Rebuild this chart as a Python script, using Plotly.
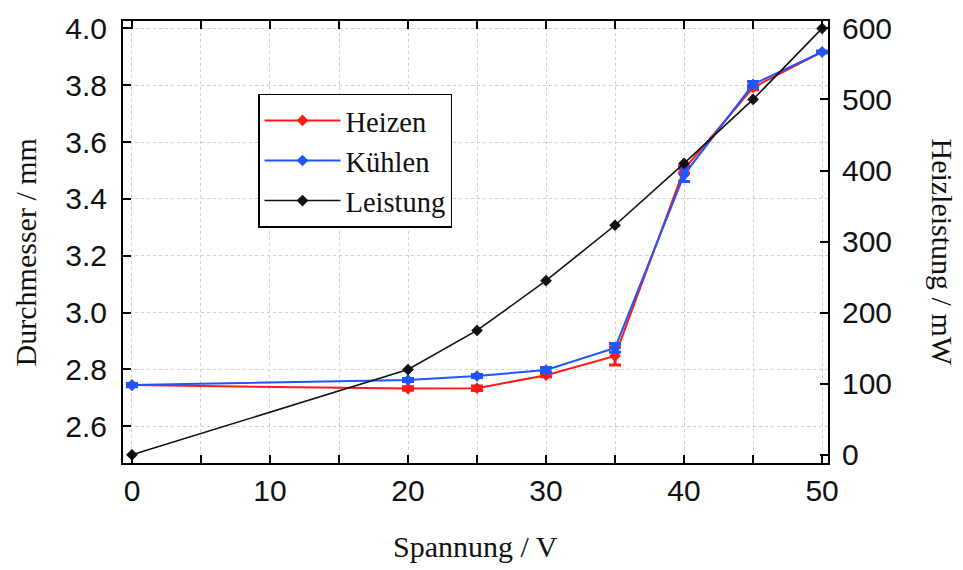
import plotly.graph_objects as go

# Measurement data: diameter vs. heating voltage, plus heating power
spannung = [0, 20, 25, 30, 35, 40, 45, 50]

heizen = [2.745, 2.733, 2.734, 2.780, 2.848, 3.504, 3.792, 3.917]
heizen_err = [0.005, 0.006, 0.008, 0.006, 0.032, 0.012, 0.008, 0.003]

kuehlen = [2.745, 2.763, 2.777, 2.798, 2.876, 3.485, 3.803, 3.917]
kuehlen_err = [0.006, 0.005, 0.005, 0.009, 0.015, 0.024, 0.010, 0.003]

leistung = [0, 120, 175, 245, 323, 410, 500, 600]

x_tickvals = [0, 5, 10, 15, 20, 25, 30, 35, 40, 45, 50]
x_ticktext = ["0", "", "10", "", "20", "", "30", "", "40", "", "50"]
y_tickvals = [2.6, 2.8, 3.0, 3.2, 3.4, 3.6, 3.8, 4.0]
y2_tickvals = [0, 100, 200, 300, 400, 500, 600]

RED = "#ff1a1a"
BLUE = "#1f55ff"
BLACK = "#111111"
SERIF = "Liberation Serif, Times New Roman, serif"
SANS = "Liberation Sans, Arial, sans-serif"

fig = go.Figure()

fig.add_trace(go.Scatter(
    x=spannung, y=heizen, name="Heizen", mode="lines+markers",
    line=dict(color=RED, width=2),
    marker=dict(symbol="diamond", size=9, color=RED),
    error_y=dict(type="data", array=heizen_err, color=RED, thickness=3, width=6),
))
fig.add_trace(go.Scatter(
    x=spannung, y=kuehlen, name="Kühlen", mode="lines+markers",
    line=dict(color=BLUE, width=2),
    marker=dict(symbol="diamond", size=9, color=BLUE),
    error_y=dict(type="data", array=kuehlen_err, color=BLUE, thickness=3, width=6),
))
fig.add_trace(go.Scatter(
    x=spannung, y=leistung, name="Leistung", mode="lines+markers",
    yaxis="y2",
    line=dict(color=BLACK, width=1.6),
    marker=dict(symbol="diamond", size=9, color=BLACK),
))

axis_common = dict(
    showline=True, linecolor="black", linewidth=2,
    ticks="inside", ticklen=8, tickwidth=2, tickcolor="black",
    zeroline=False,
    tickfont=dict(family=SANS, size=30, color="#111"),
)

fig.update_layout(
    width=963, height=570,
    margin=dict(l=123, r=135, t=16, b=107),
    paper_bgcolor="white", plot_bgcolor="white",
    showlegend=True,
    legend=dict(
        x=0.1915, y=0.835, xanchor="left", yanchor="top",
        bordercolor="black", borderwidth=1.5, bgcolor="white",
        font=dict(family=SERIF, size=28.5, color="#111"),
        tracegroupgap=0, itemwidth=76,
    ),
    xaxis=dict(
        range=[-0.65, 50.43], tickvals=x_tickvals, ticktext=x_ticktext,
        mirror="ticks", showgrid=True, gridcolor="#cfcfcf", griddash="dot",
        gridwidth=1, ticklabelstandoff=0,
        **axis_common,
    ),
    yaxis=dict(
        range=[2.471, 4.026], tickvals=y_tickvals, tickformat=".1f",
        showgrid=True, gridcolor="#cfcfcf", griddash="dot", gridwidth=1,
        ticklabelstandoff=8,
        **axis_common,
    ),
    yaxis2=dict(
        range=[-11.5, 610.4], tickvals=y2_tickvals, overlaying="y", side="right",
        showgrid=False, ticklabelstandoff=6,
        **axis_common,
    ),
    annotations=[
        dict(text="Durchmesser / mm", xref="paper", yref="paper",
             x=-0.139, y=0.4765, textangle=-90, showarrow=False,
             font=dict(family=SERIF, size=30, color="#111"),
             xanchor="center", yanchor="middle"),
        dict(text="Heizleistung / mW", xref="paper", yref="paper",
             x=1.163, y=0.4765, textangle=90, showarrow=False,
             font=dict(family=SERIF, size=30, color="#111"),
             xanchor="center", yanchor="middle"),
        dict(text="Spannung / V", xref="paper", yref="paper",
             x=0.4993, y=-0.190, showarrow=False,
             font=dict(family=SERIF, size=30, color="#111"),
             xanchor="center", yanchor="middle"),
    ],
)

fig.write_html("out.html")
